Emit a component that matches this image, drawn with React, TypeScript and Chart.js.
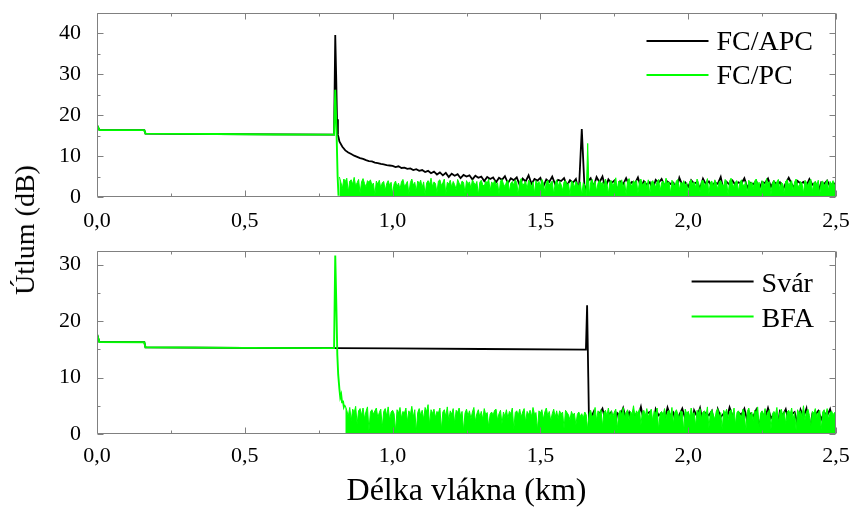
import React, { useEffect, useRef } from 'react';
import { Chart, registerables } from 'chart.js';

Chart.register(...registerables);

const SERIF = "'Liberation Serif', 'Times New Roman', serif";
const COARSE_STEP_KM = 0.01;
const FINE_STEP_KM = 0.005;

// ---------- Top panel (FC/APC vs FC/PC) ----------
const FC_APC_HEAD: [number, number][] = [
  [0, 17.6], [0.008, 16.4], [0.16, 16.35], [0.164, 15.5], [0.4, 15.4], [0.6, 15.3],
  [0.802, 15.25], [0.806, 39.6], [0.809, 30], [0.812, 19], [0.815, 15.2], [0.818, 14.3],
];
const FC_APC_TAIL_START = 0.82; // sampled every COARSE_STEP_KM
const FC_APC_TAIL: number[] = [
  13.6, 12.3, 11.4, 10.9, 10.5, 10.1, 9.8, 9.5, 9.3, 9.0,
  8.8, 8.7, 8.4, 8.3, 8.1, 8.0, 7.8, 7.7, 7.6, 7.3,
  7.5, 7.1, 7.2, 6.9, 7.0, 6.6, 6.8, 6.4, 6.6, 6.1,
  6.4, 5.8, 6.2, 5.5, 6.0, 5.3, 5.9, 4.9, 5.7, 5.2,
  5.6, 4.6, 5.4, 5.0, 5.3, 4.3, 5.2, 4.7, 5.0, 3.9,
  4.9, 4.4, 4.8, 3.6, 4.7, 4.2, 5.1, 3.4, 4.6, 4.1,
  4.8, 2.9, 4.5, 3.8, 5.3, 3.2, 4.4, 4.0, 4.7, 2.6,
  4.3, 3.7, 5.0, 3.1, 4.2, 3.9, 4.6, 2.8, 4.1, 3.5,
  4.4, 1.2, 16.6, 1.0, 3.8, 4.6, 2.5, 4.9, 3.6, 5.0,
  2.2, 4.3, 3.4, 4.0, 1.4, 3.8, 3.1, 4.6, 2.9, 3.7,
  3.3, 4.8, 2.4, 3.9, 3.0, 3.6, 1.8, 4.2, 3.5, 4.4,
  2.7, 3.8, 3.2, 3.5, 1.6, 4.7, 2.9, 3.6, 2.5, 4.1,
  3.3, 3.6, 2.1, 4.5, 3.1, 3.8, 2.6, 3.5, 3.2, 4.9,
  1.5, 3.7, 3.0, 4.0, 2.9, 3.6, 3.3, 4.6, 2.3, 3.5,
  3.1, 3.9, 1.9, 3.7, 3.4, 4.5, 2.5, 3.8, 3.0, 3.6,
  1.7, 3.4, 4.7, 3.2, 2.2, 3.9, 3.3, 3.7, 2.7, 4.4,
  3.0, 3.5, 1.3, 3.6, 3.2, 4.0, 2.6, 3.4, 3.1,
];
const FC_PC_HEAD: [number, number][] = [
  [0, 17.6], [0.008, 16.4], [0.16, 16.35], [0.164, 15.5], [0.4, 15.4], [0.6, 15.3],
  [0.802, 15.25], [0.806, 26.2], [0.81, 17], [0.814, 5], [0.817, 0.3],
];
const FC_PC_TAIL_START = 0.82; // sampled every FINE_STEP_KM
const FC_PC_TAIL: number[] = [
  4.9, 3.6, 2.1, 4.4, 3.8, 4.6, 1.2, 3.9, 4.2, 3.1, 4.8, 2.7, 3.5, 4.3, 0.9, 3.7, 4.5, 3.3, 2.4, 4.0,
  3.6, 4.2, 2.9, 3.4, 0.5, 3.9, 3.1, 4.1, 2.2, 3.5, 3.8, 1.6, 3.3, 4.0, 2.8, 3.6, 0.7, 3.2, 3.9, 2.5,
  3.4, 1.9, 3.7, 4.3, 2.6, 3.1, 3.8, 0.8, 3.5, 4.4, 2.9, 3.6, 1.4, 3.9, 3.2, 4.1, 2.3, 3.7, 0.6, 3.4,
  4.0, 3.1, 4.6, 2.5, 3.7, 3.3, 1.1, 3.9, 4.2, 2.8, 3.5, 4.4, 0.7, 3.6, 3.2, 4.1, 2.4, 3.8, 3.0, 1.8,
  4.3, 3.4, 2.7, 3.9, 3.6, 0.9, 4.0, 3.2, 3.7, 2.1, 4.2, 3.5, 2.9, 3.8, 0.5, 3.6, 4.1, 3.0, 2.6, 3.9,
  3.3, 4.4, 1.5, 3.7, 3.1, 4.0, 2.8, 3.5, 0.8, 3.9, 4.3, 3.2, 2.5, 3.6, 4.1, 1.3, 3.4, 3.8, 2.9, 4.2,
  3.5, 0.6, 3.8, 4.5, 2.7, 3.3, 3.9, 1.9, 4.1, 3.6, 2.4, 3.7, 0.9, 4.0, 3.2, 3.8, 2.6, 4.3, 3.4, 1.2,
  3.6, 4.1, 2.9, 3.5, 3.9, 0.7, 3.3, 4.2, 2.5, 3.8, 3.1, 1.6, 3.7, 4.0, 2.8, 3.4, 0.5, 3.9, 3.6, 2.3,
  3.8, 3.2, 2.6, 3.7, 0.4, 3.5, 2.9, 0.3, 13.1, 0.2, 3.6, 4.3, 2.7, 3.9, 1.4, 3.4, 4.1, 3.0, 3.7, 2.2,
  4.4, 3.3, 0.8, 3.8, 4.0, 2.6, 3.5, 4.7, 1.7, 3.9, 3.2, 4.2, 2.4, 3.6, 0.6, 3.9, 4.5, 3.1, 2.8, 4.0,
  3.4, 4.1, 1.0, 3.7, 4.4, 2.9, 3.3, 3.9, 2.2, 4.2, 0.7, 3.6, 4.0, 3.1, 2.5, 3.8, 4.3, 1.5, 3.5, 3.9,
  2.8, 4.6, 3.2, 3.7, 0.9, 4.1, 3.4, 2.6, 3.9, 4.3, 1.8, 3.6, 3.1, 4.0, 2.7, 3.5, 0.5, 3.8, 4.2, 3.0,
  3.7, 2.3, 4.4, 3.5, 1.3, 3.9, 4.1, 2.8, 3.3, 4.5, 0.8, 3.6, 3.9, 2.5, 4.2, 3.4, 1.9, 3.8, 4.0, 3.1,
  2.6, 4.3, 3.6, 0.6, 3.9, 4.6, 3.2, 2.4, 3.7, 4.0, 1.4, 3.5, 4.2, 3.0, 2.8, 3.8, 0.9, 4.1, 3.3, 3.7,
  2.1, 3.9, 4.4, 3.2, 3.6, 1.1, 4.0, 3.4, 2.7, 4.5, 3.1, 3.8, 0.6, 3.5, 4.1, 2.9, 3.7, 4.3, 1.7, 3.6,
  3.2, 0.7, 3.9, 4.2, 2.8, 3.5, 4.0, 1.5, 3.7, 4.4, 3.0, 2.4, 3.8, 3.3, 0.9, 4.1, 3.6, 2.6, 3.9, 4.3,
  1.3, 3.5, 3.8, 2.9, 4.1, 0.5, 3.6, 3.9, 2.7, 3.4, 4.2, 1.6, 3.8, 3.1, 4.0, 2.5, 4.6,
];

// ---------- Bottom panel (Svár vs BFA) ----------
const SVAR_HEAD: [number, number][] = [
  [0, 17.7], [0.008, 16.3], [0.16, 16.25], [0.164, 15.35], [0.5, 15.25], [0.806, 15.2],
  [1.0, 15.15], [1.3, 15.05], [1.654, 14.95], [1.658, 22.8], [1.662, 10], [1.665, 0.2],
];
const SVAR_TAIL_START = 1.67; // sampled every COARSE_STEP_KM
const SVAR_TAIL: number[] = [
  2.8, 3.9, 1.1, 3.6, 4.5, 2.4, 3.4, 3.9, 0.6, 3.7,
  3.2, 4.6, 2.6, 3.8, 1.8, 3.5, 3.0, 4.8, 2.2, 3.6,
  3.9, 0.8, 4.4, 3.3, 3.7, 2.5, 4.7, 3.1, 3.8, 1.5,
  3.4, 4.5, 2.7, 3.6, 0.3, 4.2, 3.1, 4.6, 2.0, 3.7,
  3.3, 4.1, 1.2, 4.4, 3.0, 3.6, 2.6, 4.7, 3.2, 0.5,
  3.8, 3.4, 4.5, 2.3, 3.6, 3.1, 4.3, 1.4, 3.7, 2.8,
  4.6, 2.8, 3.5, 0.2, 4.0, 3.3, 4.4, 2.1, 3.5, 3.9,
  1.7, 4.3, 3.0, 4.5, 0.1, 3.6, 3.4, 4.1, 2.6, 3.8,
  3.2, 4.4, 1.9, 3.7,
];
const BFA_HEAD: [number, number][] = [
  [0, 17.7], [0.008, 16.3], [0.16, 16.25], [0.164, 15.35], [0.5, 15.25], [0.802, 15.2],
  [0.806, 31.6], [0.81, 22], [0.813, 14], [0.816, 10.5], [0.82, 8.0], [0.823, 6.5],
  [0.826, 7.0], [0.829, 5.6], [0.832, 5.9], [0.835, 4.8], [0.838, 5.2],
];
const BFA_TAIL_START = 0.84; // sampled every FINE_STEP_KM
const BFA_TAIL: number[] = [
  5.0, 4.2, 3.1, 4.7, 2.4, 4.4, 3.8, 4.9, 1.8, 4.1, 4.5, 3.3, 4.6, 2.7, 4.0, 4.8, 0.6, 3.9, 4.3, 3.5,
  4.1, 4.6, 2.9, 3.8, 4.4, 1.2, 4.0, 4.5, 3.2, 4.8, 2.5, 3.9, 4.2, 3.6, 0.5, 4.3, 3.7, 4.7, 2.8, 4.0,
  3.7, 4.6, 2.2, 4.1, 3.4, 4.9, 3.0, 4.3, 0.4, 3.8, 4.5, 3.3, 4.2, 2.6, 4.7, 3.9, 5.2, 1.7, 4.3, 3.6,
  4.4, 2.9, 4.0, 3.7, 4.6, 0.8, 3.9, 4.3, 3.1, 4.8, 2.4, 4.1, 3.5, 4.5, 1.9, 4.2, 3.8, 4.6, 3.2, 4.0,
  0.6, 3.7, 4.4, 3.2, 4.1, 2.7, 3.9, 4.7, 2.2, 3.6, 4.3, 3.0, 4.0, 2.6, 4.5, 3.4, 3.8, 1.3, 3.5, 3.9,
  3.3, 4.2, 4.4, 2.5, 3.6, 4.2, 1.8, 3.9, 3.1, 4.3, 2.8, 4.0, 3.6, 4.6, 0.9, 3.8, 4.1, 3.3, 4.4, 3.0,
  3.9, 4.5, 2.1, 4.0, 3.4, 4.2, 3.1, 4.7, 3.5, 3.8, 0.7, 4.1, 3.7, 4.3, 2.6, 3.9, 4.6, 3.2, 4.0, 2.3,
  3.6, 4.4, 3.0, 4.1, 2.7, 4.1, 3.5, 3.9, 1.0, 4.2, 3.8, 3.4, 2.5, 4.0, 3.3, 3.7, 1.6, 3.5, 3.9, 3.1,
  3.6, 2.8, 3.9, 3.4, 0.8, 3.6, 4.2, 3.0, 3.4, 4.7, 2.4, 4.1, 3.5, 4.3, 1.4, 3.8, 4.2, 3.3, 4.6, 2.9,
  4.1, 3.0, 3.9, 4.4, 0.9, 3.6, 4.2, 3.4, 4.7, 2.8, 3.8, 4.3, 2.5, 4.0, 3.5, 5.0, 3.1, 4.1, 3.6, 4.4,
  1.6, 3.9, 4.2, 3.2, 4.5, 3.0, 3.8, 4.4, 2.3, 4.1, 3.6, 4.6, 0.7, 3.7, 4.0, 3.3, 4.5, 2.6, 3.9, 4.2,
  3.1, 4.7, 1.9, 3.8, 4.3, 3.5, 2.7, 4.1, 3.9, 0.5, 4.4, 3.6, 4.0, 2.9, 4.6, 3.3, 3.8, 1.5, 4.2, 3.7,
  4.5, 2.8, 3.9, 4.1, 3.2, 4.8, 1.1, 3.7, 4.3, 3.4, 2.6, 4.0, 4.5, 3.0, 3.8, 0.8, 4.2, 3.6, 4.4, 2.5,
  3.9, 4.3, 3.1, 4.6, 1.7, 3.8, 4.1, 3.5, 2.9, 4.4, 3.7, 0.6, 4.0, 4.6, 3.2, 3.9, 2.4, 4.2, 3.6, 4.8,
  1.3, 3.7, 4.1, 3.3, 4.5, 2.8, 3.9, 4.3, 0.9, 3.6, 4.0, 3.4, 4.7, 2.2, 3.8, 4.4, 3.1, 4.0, 1.8, 3.9,
  4.2, 3.5, 4.6, 2.7, 3.8, 0.7, 4.3, 3.6, 4.1, 3.0, 5.0, 2.5, 3.9, 4.4, 3.3, 1.4, 4.0, 3.7, 4.5, 2.9,
  3.8, 4.2, 0.8, 3.9, 4.3, 3.2, 4.5, 2.6, 3.7, 4.1, 3.4, 3.8, 4.0,
];

// ---------- Axes / labels ----------
const X_MIN = 0;
const X_MAX = 2.5;
const X_STEP = 0.5;
const TOP_Y_MAX = 45;
const BOTTOM_Y_MAX = 32.4;
const Y_STEP = 10;
const X_TITLE = 'Délka vlákna (km)';
const Y_TITLE = 'Útlum (dB)';
const TOP_LABELS = ['FC/APC', 'FC/PC'];
const BOTTOM_LABELS = ['Svár', 'BFA'];

const BLACK = '#000000';
const GREEN = '#00ff00';
const FRAME = '#808080';

const headPoints = (pts: [number, number][]) => pts.map(([x, y]) => ({ x, y }));
const tailPoints = (start: number, step: number, vals: number[]) =>
  vals.map((y, i) => ({ x: Math.round((start + i * step) * 10000) / 10000, y }));

const frameTicksPlugin = {
  id: 'frameTicks',
  afterDatasetsDraw(chart: any, _args: any, opts: any) {
    const { ctx, chartArea: a, scales } = chart;
    const xs = scales.x;
    const ys = scales.y;
    ctx.save();
    ctx.strokeStyle = opts.color;
    ctx.lineWidth = 1;
    const L = Math.round(a.left) + 0.5;
    const R = Math.round(a.right) - 0.5;
    const T = Math.round(a.top) + 0.5;
    const B = Math.round(a.bottom) - 0.5;
    ctx.beginPath();
    ctx.rect(L, T, R - L, B - T);
    ctx.stroke();
    ctx.beginPath();
    const nx = Math.round((xs.max - xs.min) / opts.xMinor);
    for (let i = 0; i <= nx; i++) {
      const v = xs.min + i * opts.xMinor;
      const len = i % 2 === 0 ? opts.majorLen : opts.minorLen;
      const px = Math.round(xs.getPixelForValue(v)) + 0.5;
      ctx.moveTo(px, B); ctx.lineTo(px, B - len);
      ctx.moveTo(px, T); ctx.lineTo(px, T + len);
    }
    const ny = Math.floor((ys.max - ys.min) / opts.yMinor + 1e-6);
    for (let i = 0; i <= ny; i++) {
      const v = ys.min + i * opts.yMinor;
      const len = i % 2 === 0 ? opts.majorLen : opts.minorLen;
      const py = Math.round(ys.getPixelForValue(v)) + 0.5;
      ctx.moveTo(L, py); ctx.lineTo(L + len, py);
      ctx.moveTo(R, py); ctx.lineTo(R - len, py);
    }
    ctx.stroke();
    ctx.restore();
  },
};

const insideLegendPlugin = {
  id: 'insideLegend',
  afterDatasetsDraw(chart: any, _args: any, opts: any) {
    const { ctx, chartArea: a } = chart;
    const items = chart.data.datasets.filter((d: any) => d.label);
    ctx.save();
    ctx.font = `${opts.fontSize}px ${SERIF}`;
    const textW = Math.max(...items.map((d: any) => ctx.measureText(d.label).width));
    const textX = a.right - opts.rightInset - textW;
    const lineX1 = textX - opts.gap;
    const lineX0 = lineX1 - opts.lineLength;
    items.forEach((d: any, i: number) => {
      const base = a.top + opts.firstBaseline + i * opts.spacing;
      const midY = base - opts.lineRaise;
      ctx.strokeStyle = d.borderColor;
      ctx.lineWidth = 2;
      ctx.beginPath();
      ctx.moveTo(lineX0, midY);
      ctx.lineTo(lineX1, midY);
      ctx.stroke();
      ctx.fillStyle = '#000';
      ctx.textAlign = 'left';
      ctx.textBaseline = 'alphabetic';
      ctx.fillText(d.label, textX, base);
    });
    ctx.restore();
  },
};

function makeConfig(p: {
  datasets: any[];
  yMax: number;
  padTop: number;
  xHeight: number;
  tickPad: number;
  xTitle?: string;
  legend: any;
}) {
  return {
    type: 'line' as const,
    data: { datasets: p.datasets },
    plugins: [frameTicksPlugin, insideLegendPlugin],
    options: {
      animation: false as const,
      responsive: false,
      layout: { padding: { left: 0, right: 15, top: p.padTop, bottom: 0 } },
      elements: { point: { radius: 0 }, line: { tension: 0 } },
      plugins: {
        legend: { display: false },
        tooltip: { enabled: false },
        frameTicks: { color: FRAME, xMinor: X_STEP / 2, yMinor: Y_STEP / 2, majorLen: 6, minorLen: 3 },
        insideLegend: p.legend,
      },
      scales: {
        x: {
          type: 'linear' as const,
          min: X_MIN,
          max: X_MAX,
          grid: { display: false },
          border: { display: false },
          ticks: {
            stepSize: X_STEP,
            autoSkip: false,
            maxRotation: 0,
            padding: p.tickPad,
            color: '#000',
            font: { family: SERIF, size: 22 },
            callback: (v: any) => Number(v).toFixed(1).replace('.', ','),
          },
          title: p.xTitle
            ? {
                display: true,
                text: p.xTitle,
                color: '#000',
                font: { family: SERIF, size: 32, lineHeight: 1 },
                padding: { top: 0, bottom: 0 },
              }
            : { display: false },
          afterFit: (s: any) => {
            s.height = p.xHeight;
            s.paddingLeft = 0;
            s.paddingRight = 0;
          },
        },
        y: {
          type: 'linear' as const,
          min: 0,
          max: p.yMax,
          grid: { display: false },
          border: { display: false },
          ticks: {
            stepSize: Y_STEP,
            includeBounds: false,
            padding: 8,
            color: '#000',
            font: { family: SERIF, size: 22 },
          },
          afterFit: (s: any) => {
            s.width = 97;
            s.paddingTop = 0;
            s.paddingBottom = 0;
          },
        },
      },
    },
  };
}

const lineDs = (label: string, color: string, data: any[], order: number, width = 1.8) => ({
  label,
  data,
  borderColor: color,
  backgroundColor: color,
  borderWidth: width,
  pointRadius: 0,
  fill: false,
  order,
});
const noiseFillDs = (color: string, data: any[], order: number) => ({
  label: '',
  data,
  borderColor: color,
  backgroundColor: color,
  borderWidth: 1,
  pointRadius: 0,
  fill: 'origin',
  order,
});

export default function App() {
  const topRef = useRef<HTMLCanvasElement>(null);
  const botRef = useRef<HTMLCanvasElement>(null);

  useEffect(() => {
    const top = new Chart(
      topRef.current as HTMLCanvasElement,
      makeConfig({
        datasets: [
          lineDs(TOP_LABELS[0], BLACK, [...headPoints(FC_APC_HEAD), ...tailPoints(FC_APC_TAIL_START, COARSE_STEP_KM, FC_APC_TAIL)], 2, 1.8),
          lineDs(TOP_LABELS[1], GREEN, headPoints(FC_PC_HEAD), 1, 1.9),
          noiseFillDs(GREEN, tailPoints(FC_PC_TAIL_START, FINE_STEP_KM, FC_PC_TAIL), 1),
        ],
        yMax: TOP_Y_MAX,
        padTop: 13,
        xHeight: 43,
        tickPad: 3,
        legend: { fontSize: 28, rightInset: 23, firstBaseline: 37, spacing: 34, lineLength: 62, gap: 8, lineRaise: 9 },
      }) as any
    );
    const bottom = new Chart(
      botRef.current as HTMLCanvasElement,
      makeConfig({
        datasets: [
          lineDs(BOTTOM_LABELS[0], BLACK, [...headPoints(SVAR_HEAD), ...tailPoints(SVAR_TAIL_START, COARSE_STEP_KM, SVAR_TAIL)], 2, 1.8),
          lineDs(BOTTOM_LABELS[1], GREEN, headPoints(BFA_HEAD), 1, 1.9),
          noiseFillDs(GREEN, tailPoints(BFA_TAIL_START, FINE_STEP_KM, BFA_TAIL), 1),
        ],
        yMax: BOTTOM_Y_MAX,
        padTop: 24,
        xHeight: 74,
        tickPad: 1,
        xTitle: X_TITLE,
        legend: { fontSize: 28, rightInset: 22, firstBaseline: 40.5, spacing: 35, lineLength: 62, gap: 8, lineRaise: 10 },
      }) as any
    );
    return () => {
      top.destroy();
      bottom.destroy();
    };
  }, []);

  return (
    <div style={{ position: 'absolute', left: 0, top: 0, width: 851, height: 508, background: '#fff', overflow: 'hidden' }}>
      <canvas ref={topRef} width={851} height={240} style={{ position: 'absolute', left: 0, top: 0 }} />
      <canvas ref={botRef} width={851} height={281} style={{ position: 'absolute', left: 0, top: 227 }} />
      <div
        style={{
          position: 'absolute',
          left: 25,
          top: 230,
          transform: 'translate(-50%, -50%) rotate(-90deg)',
          font: `28px ${SERIF}`,
          lineHeight: 1,
          whiteSpace: 'nowrap',
          color: '#000',
        }}
      >
        {Y_TITLE}
      </div>
    </div>
  );
}
